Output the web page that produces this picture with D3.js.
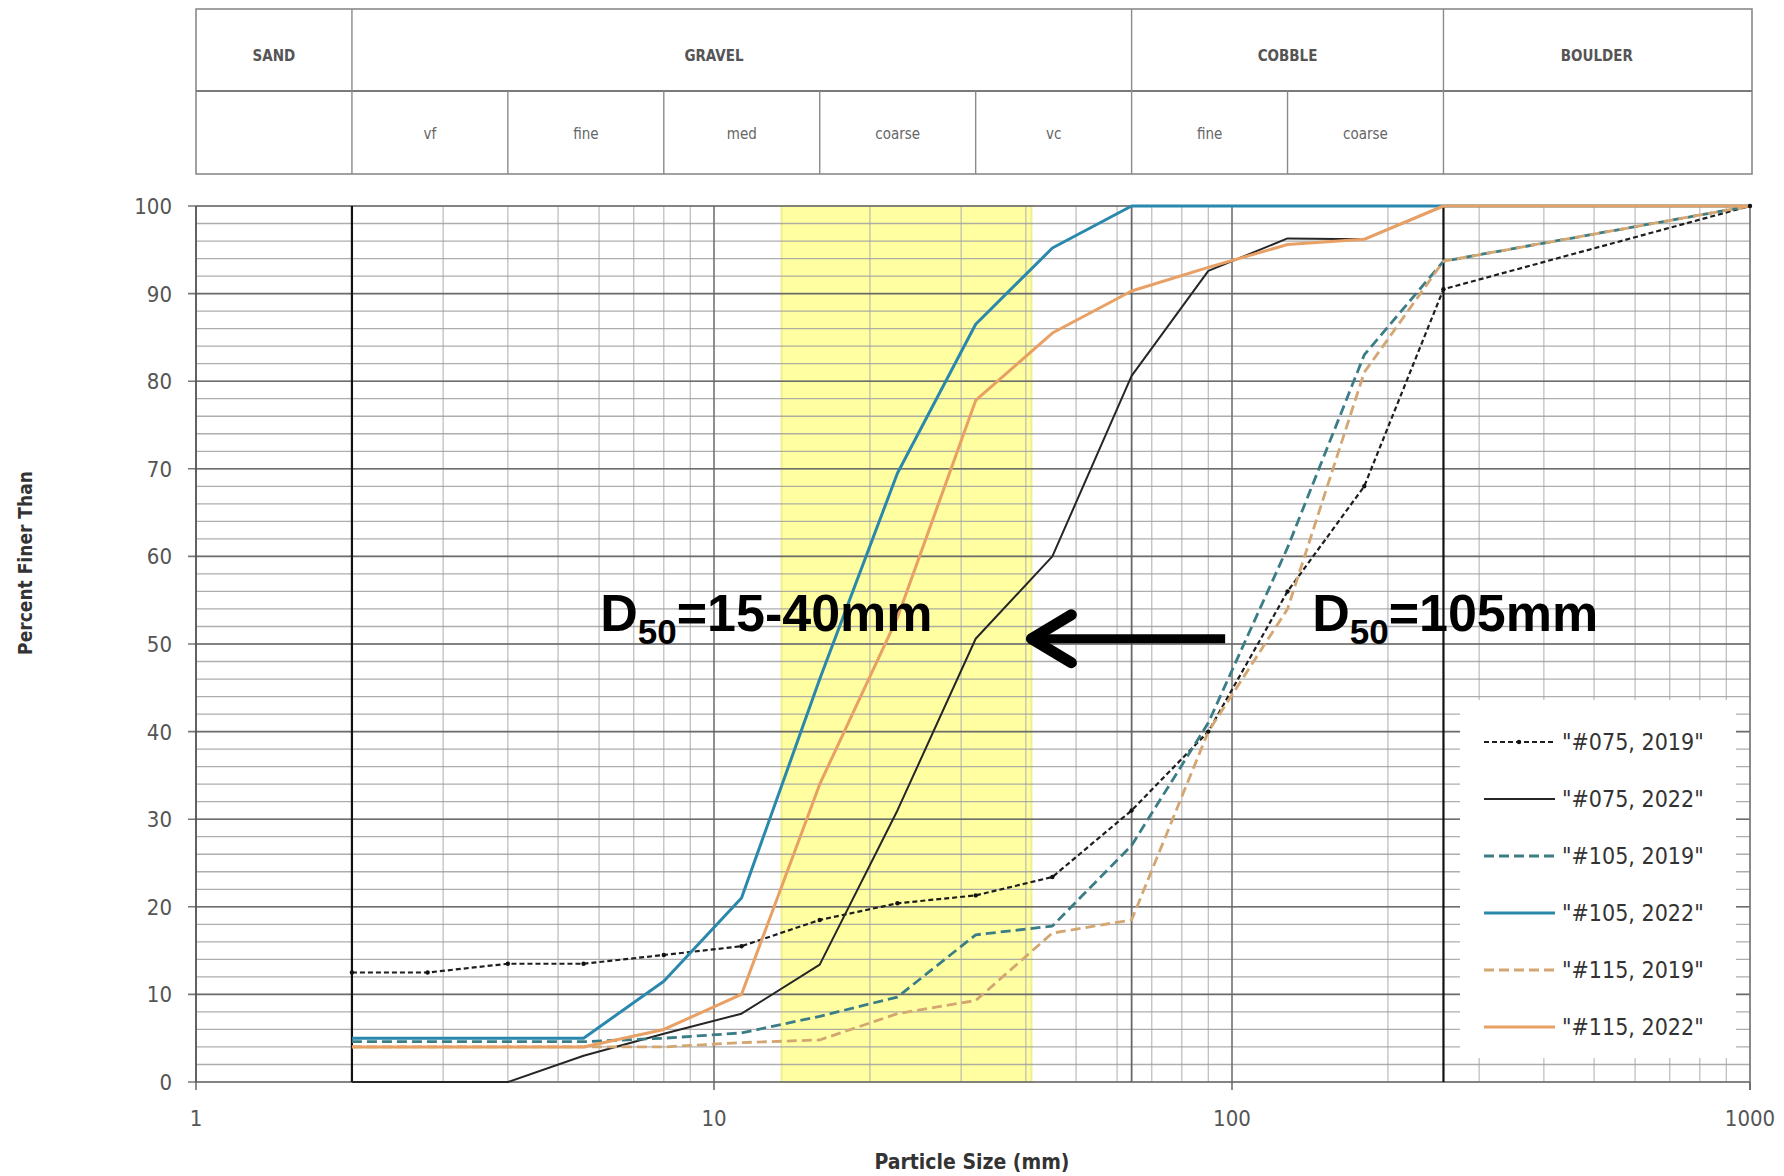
<html>
<head>
<script src="https://d3js.org/d3.v7.min.js"></script>
<style>
body { margin: 0; background: #fff; }
text { font-family: "DejaVu Sans Condensed", "Liberation Sans Narrow", Arial, sans-serif; }
.big { font-family: "Liberation Sans", Arial, sans-serif; font-weight: bold; }
</style>
</head>
<body>
<div id="chart"></div>
<script>

// sieve sizes (mm) where the curves were sampled
var sizes = [2, 2.8, 4, 5.6, 8, 11.3, 16, 22.6, 32, 45, 64, 90, 128, 180, 256, 1000];

var s075_2019 = [12.5, 12.5, 13.5, 13.5, 14.5, 15.5, 18.5, 20.4, 21.3, 23.4, 31, 40, 56, 68, 90.5, 100];
var s075_2022 = [0, 0, 0, 3, 5.5, 7.8, 13.4, 31, 50.6, 60, 80.6, 92.6, 96.3, 96.2, 100, 100];
var s105_2019 = [4.6, 4.6, 4.6, 4.6, 5, 5.6, 7.5, 9.7, 16.8, 17.8, 27, 41, 61, 83, 93.7, 100];
var s105_2022 = [5, 5, 5, 5, 11.5, 21, 46, 69.5, 86.5, 95.2, 100, 100, 100, 100, 100, 100];
var s115_2019 = [4, 4, 4, 4, 4, 4.5, 4.8, 7.8, 9.3, 17, 18.5, 40, 54, 81, 93.7, 100];
var s115_2022 = [4, 4, 4, 4, 6, 10, 34, 53, 77.8, 85.5, 90.3, 93, 95.6, 96.2, 100, 100];

var seriesNames = ['"#075, 2019"', '"#075, 2022"', '"#105, 2019"', '"#105, 2022"', '"#115, 2019"', '"#115, 2022"'];
var seriesValues = [s075_2019, s075_2022, s105_2019, s105_2022, s115_2019, s115_2022];
var seriesColors = ["#1e1e1e", "#262626", "#3a7d86", "#2b88ad", "#d3a672", "#e8a064"];
var seriesDash = ["5,3", null, "10,5", null, "10,5", null];
var seriesWidth = [2.2, 2, 2.8, 3, 2.8, 3];

// size class table above the plot
var classBounds = [1, 2, 64, 256, 1000];
var classNames = ["SAND", "GRAVEL", "COBBLE", "BOULDER"];
var classLabelAt = [1.414, 10, 128, 506];
var subBounds = [1, 2, 4, 8, 16, 32, 64, 128, 256, 1000];
var subNames = ["", "vf", "fine", "med", "coarse", "vc", "fine", "coarse", ""];

var xTicks = [1, 10, 100, 1000];
var yTicks = [0, 10, 20, 30, 40, 50, 60, 70, 80, 90, 100];
var darkX = [2, 256];
var midX = [10, 64, 100];

// annotations
var band = [13.5, 41];
var arrowFrom = [97, 50.6], arrowTo = [41, 50.6];
var notes = [{ x: 6.03, y: 51.5, t: "15-40mm" }, { x: 142.8, y: 51.5, t: "105mm" }];

var width = 1784, height = 1176;
var svg = d3.select("#chart").append("svg").attr("width", width).attr("height", height);

var x = d3.scaleLog().domain([1, 1000]).range([196, 1750]);
var y = d3.scaleLinear().domain([0, 100]).range([1082, 206]);

// header table
var tTop = 9, tMid = 91, tBot = 174;
var head = svg.append("g");
head.append("rect").attr("x", x(1)).attr("y", tTop).attr("width", x(1000) - x(1) + 2).attr("height", tBot - tTop)
  .style("fill", "none").style("stroke", "#8a8a8a").style("stroke-width", 1.6);
head.append("line").attr("x1", x(1)).attr("x2", x(1000) + 2).attr("y1", tMid).attr("y2", tMid)
  .style("stroke", "#7a7a7a").style("stroke-width", 1.8);
head.selectAll(".cb").data(classBounds.slice(1, -1)).enter().append("line")
  .attr("x1", function(d) { return x(d); }).attr("x2", function(d) { return x(d); })
  .attr("y1", tTop).attr("y2", tMid).style("stroke", "#8a8a8a").style("stroke-width", 1.4);
head.selectAll(".sb").data(subBounds.slice(1, -1)).enter().append("line")
  .attr("x1", function(d) { return x(d); }).attr("x2", function(d) { return x(d); })
  .attr("y1", tMid).attr("y2", tBot).style("stroke", "#8a8a8a").style("stroke-width", 1.4);
head.selectAll(".cn").data(classNames).enter().append("text")
  .attr("x", function(d, i) { return x(classLabelAt[i]); }).attr("y", 61)
  .attr("text-anchor", "middle").style("font-size", "15px").style("font-weight", "bold").style("fill", "#555")
  .text(function(d) { return d; });
head.selectAll(".sn").data(subNames).enter().append("text")
  .attr("x", function(d, i) { return x(Math.sqrt(subBounds[i] * subBounds[i + 1])); }).attr("y", 139)
  .attr("text-anchor", "middle").style("font-size", "15px").style("fill", "#666")
  .text(function(d) { return d; });

// grid
var grid = svg.append("g");
var minorX = [];
[1, 10, 100].forEach(function(dec) { for (var k = 1; k < 10; k++) minorX.push(dec * k); });
minorX.push(1000);
grid.selectAll(".vx").data(minorX).enter().append("line")
  .attr("x1", function(d) { return x(d); }).attr("x2", function(d) { return x(d); })
  .attr("y1", y(0)).attr("y2", y(100)).style("stroke", "#b0b0b0").style("stroke-width", 1.2);
var minorY = d3.range(0, 101, 2);
grid.selectAll(".hy").data(minorY).enter().append("line")
  .attr("x1", x(1)).attr("x2", x(1000)).attr("y1", function(d) { return y(d); }).attr("y2", function(d) { return y(d); })
  .style("stroke", "#a0a0a0").style("stroke-width", 1.3);
grid.selectAll(".hm").data(yTicks).enter().append("line")
  .attr("x1", x(1) - 8).attr("x2", x(1000)).attr("y1", function(d) { return y(d); }).attr("y2", function(d) { return y(d); })
  .style("stroke", "#606060").style("stroke-width", 1.6);
grid.selectAll(".vm").data(midX.concat([64])).enter().append("line")
  .attr("x1", function(d) { return x(d); }).attr("x2", function(d) { return x(d); })
  .attr("y1", y(0)).attr("y2", y(100)).style("stroke", "#666").style("stroke-width", 1.5);

// yellow D50 band
svg.append("rect").attr("x", x(band[0])).attr("y", y(100)).attr("width", x(band[1]) - x(band[0]))
  .attr("height", y(0) - y(100)).style("fill", "#ffff55").style("opacity", 0.55)
  .style("stroke", "#e4e43a").style("stroke-width", 2);

grid.raise();
grid.selectAll("line").style("opacity", 0.85);

svg.selectAll(".vd").data(darkX).enter().append("line")
  .attr("x1", function(d) { return x(d); }).attr("x2", function(d) { return x(d); })
  .attr("y1", y(0)).attr("y2", y(100)).style("stroke", "#111").style("stroke-width", 2.2);
svg.append("line").attr("x1", x(1)).attr("x2", x(1)).attr("y1", y(0)).attr("y2", y(100))
  .style("stroke", "#555").style("stroke-width", 1.8);
svg.append("line").attr("x1", x(1000)).attr("x2", x(1000)).attr("y1", y(0) + 8).attr("y2", y(100))
  .style("stroke", "#777").style("stroke-width", 1.6);
svg.selectAll(".xt").data(xTicks).enter().append("line")
  .attr("x1", function(d) { return x(d); }).attr("x2", function(d) { return x(d); })
  .attr("y1", y(0)).attr("y2", y(0) + 8).style("stroke", "#666").style("stroke-width", 1.5);

// axis labels
svg.selectAll(".yl").data(yTicks).enter().append("text")
  .attr("x", 172).attr("y", function(d) { return y(d) + 8; }).attr("text-anchor", "end")
  .style("font-size", "22px").style("fill", "#555").text(function(d) { return d; });
svg.selectAll(".xl").data(xTicks).enter().append("text")
  .attr("x", function(d) { return x(d); }).attr("y", 1126).attr("text-anchor", "middle")
  .style("font-size", "22px").style("fill", "#555").text(function(d) { return d; });
svg.append("text").attr("x", 972).attr("y", 1169).attr("text-anchor", "middle")
  .style("font-size", "21px").style("font-weight", "bold").style("fill", "#333").text("Particle Size (mm)");
svg.append("text").attr("transform", "translate(32,563) rotate(-90)").attr("text-anchor", "middle")
  .style("font-size", "19px").style("font-weight", "bold").style("fill", "#333").text("Percent Finer Than");

// curves
var line = d3.line().x(function(d) { return x(d[0]); }).y(function(d) { return y(d[1]); });
seriesValues.forEach(function(vals, i) {
  var pts = sizes.map(function(s, j) { return [s, vals[j]]; });
  svg.append("path").datum(pts).attr("d", line)
    .style("fill", "none").style("stroke", seriesColors[i]).style("stroke-width", seriesWidth[i])
    .style("stroke-dasharray", seriesDash[i]).style("stroke-linejoin", "round");
});
svg.selectAll(".mk").data(sizes.map(function(s, j) { return [s, s075_2019[j]]; })).enter().append("circle")
  .attr("cx", function(d) { return x(d[0]); }).attr("cy", function(d) { return y(d[1]); })
  .attr("r", 2.2).style("fill", "#111");

// arrow
svg.append("line").attr("x1", x(arrowFrom[0])).attr("x2", x(arrowTo[0]) + 8)
  .attr("y1", y(arrowFrom[1])).attr("y2", y(arrowTo[1]))
  .style("stroke", "#000").style("stroke-width", 9);
var tx = x(arrowTo[0]), ty = y(arrowTo[1]);
svg.append("path").attr("d", "M" + (tx + 40) + "," + (ty - 24) + "L" + tx + "," + ty + "L" + (tx + 40) + "," + (ty + 24))
  .style("fill", "none").style("stroke", "#000").style("stroke-width", 11)
  .style("stroke-linecap", "round").style("stroke-linejoin", "round");

notes.forEach(function(n) {
  var t = svg.append("text").attr("class", "big").attr("x", x(n.x)).attr("y", y(n.y))
    .style("font-size", "52px").style("fill", "#000");
  t.append("tspan").text("D");
  t.append("tspan").attr("dy", 13).style("font-size", "35px").text("50");
  t.append("tspan").attr("dy", -13).text("=" + n.t);
});

// legend
var lg = svg.append("g");
lg.append("rect").attr("x", 1460).attr("y", 700).attr("width", 276).attr("height", 358).style("fill", "#fff");
seriesNames.forEach(function(name, i) {
  var ly = 742 + i * 57;
  lg.append("line").attr("x1", 1484).attr("x2", 1555).attr("y1", ly).attr("y2", ly)
    .style("stroke", seriesColors[i]).style("stroke-width", seriesWidth[i])
    .style("stroke-dasharray", seriesDash[i]);
  if (i === 0) {
    lg.append("circle").attr("cx", 1519).attr("cy", ly).attr("r", 2.2).style("fill", "#111");
  }
  lg.append("text").attr("x", 1562).attr("y", ly + 8).style("font-size", "23px").style("fill", "#333").text(name);
});

</script>
</body>
</html>
